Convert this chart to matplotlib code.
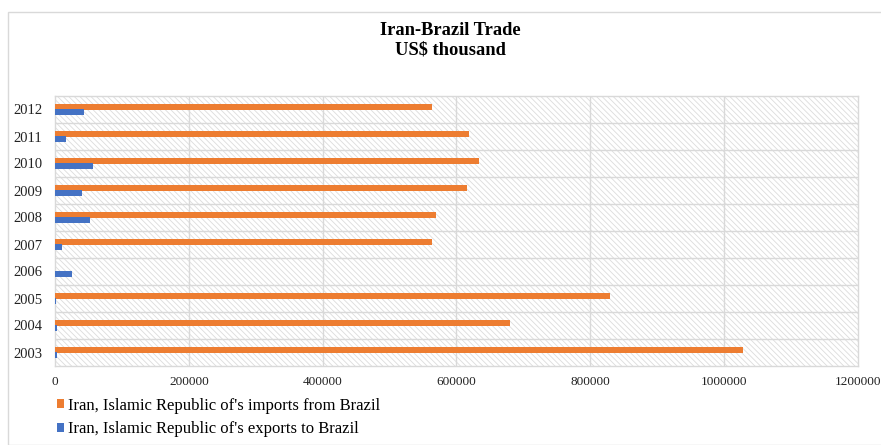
import matplotlib
matplotlib.use("Agg")
import matplotlib.pyplot as plt
from matplotlib.patches import Rectangle
import numpy as np

years = ["2003", "2004", "2005", "2006", "2007", "2008", "2009", "2010", "2011", "2012"]
imports_from_brazil = [1028000, 680000, 830000, 0, 563000, 570000, 615000, 634000, 618000, 563000]
exports_to_brazil = [3500, 3000, 1500, 26000, 10000, 53000, 40000, 57000, 17000, 43500]
xticks = [0, 200000, 400000, 600000, 800000, 1000000, 1200000]
series_names = ["Iran, Islamic Republic of's imports from Brazil",
                "Iran, Islamic Republic of's exports to Brazil"]
title = "Iran-Brazil Trade\nUS$ thousand"

plt.rcParams['font.family'] = ['Liberation Serif', 'DejaVu Serif']
plt.rcParams['hatch.linewidth'] = 0.6

W, H = 881, 445
fig = plt.figure(figsize=(W / 100, H / 100), dpi=100)

# outer chart frame
fig.patches.append(Rectangle((8 / W, 0), 1, 1 - 12 / H, transform=fig.transFigure,
                             fill=False, edgecolor='#d9d9d9', linewidth=1.0, zorder=0))

left, right, top, bottom = 55, 858, 96, 366
ax = fig.add_axes([left / W, 1 - bottom / H, (right - left) / W, (bottom - top) / H])

# hatched background
ax.add_patch(Rectangle((0, 0), 1, 1, transform=ax.transAxes, facecolor='white',
                       edgecolor='#dcdcdc', hatch='\\\\\\\\\\\\', linewidth=0, zorder=0))

y = np.arange(len(years))
h = 0.21
ax.barh(y + 0.1, imports_from_brazil, height=h, color='#ED7D31', zorder=3,
        label=series_names[0])
ax.barh(y - 0.1, exports_to_brazil, height=h, color='#4472C4', zorder=3,
        label=series_names[1])

ax.set_xlim(0, 1200000)
ax.set_ylim(-0.5, len(years) - 0.5)
ax.set_xticks(xticks)
ax.set_xticklabels([str(v) for v in xticks], fontsize=9.5, color='#222222')
ax.set_yticks(y)
ax.set_yticklabels(years, fontsize=10.5, color='#222222')
ax.tick_params(length=0, axis='y', pad=9)
ax.tick_params(length=0, axis='x', pad=7)
for v in xticks[1:-1]:
    ax.axvline(v, color='#d9d9d9', linewidth=1.0, zorder=1)
for b in np.arange(0.5, len(years) - 0.5, 1):
    ax.axhline(b, color='#d9d9d9', linewidth=1.0, zorder=1)
for s in ax.spines.values():
    s.set_color('#d9d9d9')
    s.set_linewidth(1.0)

fig.text(450 / W, 1 - 40 / H, title, ha='center', va='center', fontsize=13.3,
         fontweight='bold', linespacing=1.2)

leg = fig.legend(loc='upper left', bbox_to_anchor=(50 / W, 1 - 391 / H), frameon=False,
                 fontsize=12, handlelength=0.45, handleheight=0.45, handletextpad=0.25,
                 labelspacing=0.45, borderaxespad=0)

fig.savefig("out.png", dpi=100)
